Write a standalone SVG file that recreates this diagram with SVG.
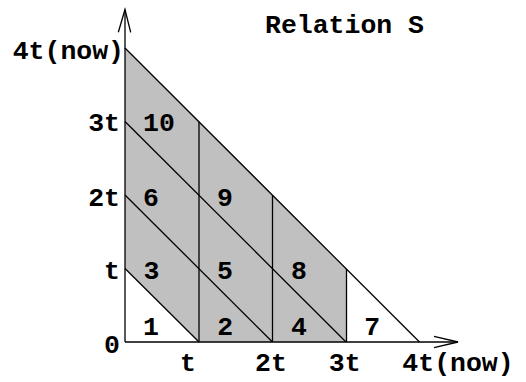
<svg xmlns="http://www.w3.org/2000/svg" width="526" height="382" viewBox="0 0 526 382">
<style>
.ln{stroke:#000;stroke-width:1.3;fill:none}
.t{font-family:"Liberation Mono","Courier New",monospace;font-weight:bold;font-size:26.5px;fill:#000}
.m{text-anchor:middle}
.e{text-anchor:end}
</style>
<rect width="526" height="382" fill="#fff"/>
<g id="shaded">
<polygon points="125,268.5 125,48 346.5,269.5 346.5,342 199,342" fill="#c0c0c0" stroke="none"/>
</g>
<g id="connectors">
<line class="ln" x1="125" y1="342" x2="125" y2="9.5"/>
<polyline class="ln" points="118.3,32.3 125,9.5 130.7,32.3"/>
<line class="ln" x1="125" y1="342" x2="458" y2="342"/>
<polyline class="ln" points="434,336.3 458,342 434,347.7"/>
<line class="ln" x1="125" y1="48" x2="419.5" y2="342"/>
<line class="ln" x1="125" y1="121.5" x2="346" y2="342"/>
<line class="ln" x1="125" y1="195" x2="272.5" y2="342"/>
<line class="ln" x1="125" y1="268.5" x2="199" y2="342"/>
<line class="ln" x1="199" y1="342" x2="199" y2="121.8"/>
<line class="ln" x1="272.5" y1="342" x2="272.5" y2="195.3"/>
<line class="ln" x1="346.5" y1="342" x2="346.5" y2="268.8"/>
</g>
<g id="title"><text class="t" x="265" y="33.3">Relation S</text></g>
<g id="ylabels">
<text class="t e" x="124" y="59">4t(now)</text>
<text class="t e" x="120" y="131">3t</text>
<text class="t e" x="120" y="206">2t</text>
<text class="t e" x="120" y="279">t</text>
<text class="t e" x="120" y="353">0</text>
</g>
<g id="xlabels">
<text class="t m" x="188" y="371">t</text>
<text class="t m" x="271" y="371">2t</text>
<text class="t m" x="344.7" y="371">3t</text>
<text class="t m" x="458" y="371">4t(now)</text>
</g>
<g id="cells">
<text class="t m" x="151" y="335">1</text>
<text class="t m" x="225.3" y="335">2</text>
<text class="t m" x="299" y="335">4</text>
<text class="t m" x="372.3" y="335">7</text>
<text class="t m" x="151.5" y="279">3</text>
<text class="t m" x="225" y="279">5</text>
<text class="t m" x="299" y="279">8</text>
<text class="t m" x="151" y="206">6</text>
<text class="t m" x="225" y="206">9</text>
<text class="t m" x="159" y="131">10</text>
</g>
</svg>
